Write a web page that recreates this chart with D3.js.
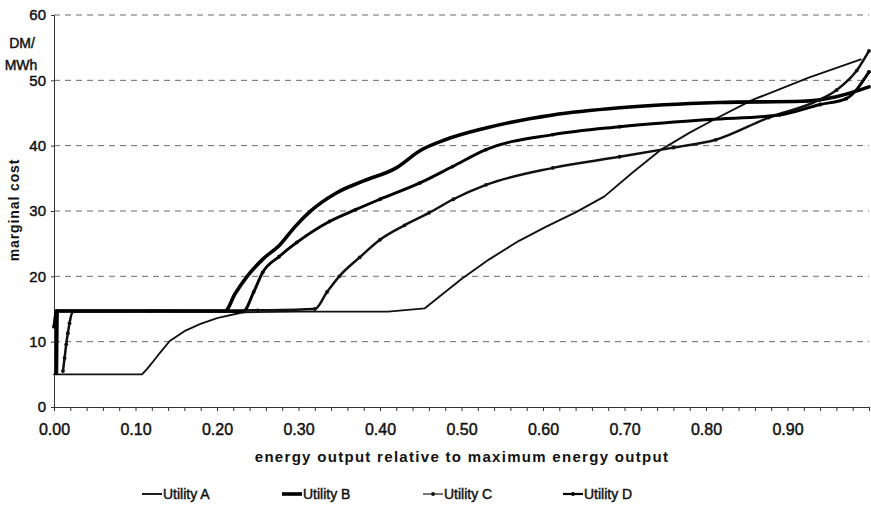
<!DOCTYPE html>
<html>
<head>
<meta charset="utf-8">
<script src="https://cdn.jsdelivr.net/npm/d3@7"></script>
<style>
  html, body { margin: 0; padding: 0; background: #fff; }
  svg { display: block; font-family: "Liberation Sans", Arial, sans-serif; }
  .heavy { stroke: #111; stroke-width: 0.45px; }
</style>
</head>
<body>
<svg id="chart" width="871" height="506"></svg>
<script>
// Marginal cost curves (DM/MWh) against relative energy output
const xTicks = [0, 0.1, 0.2, 0.3, 0.4, 0.5, 0.6, 0.7, 0.8, 0.9];
const yTicks = [0, 10, 20, 30, 40, 50, 60];

const utilityA = [
  [0.000, 5.0], [0.108, 5.0], [0.114, 5.8], [0.120, 6.7], [0.130, 8.3],
  [0.142, 10.1], [0.160, 11.6], [0.179, 12.7], [0.200, 13.6], [0.232, 14.5],
  [0.300, 14.6], [0.410, 14.6], [0.455, 15.1], [0.500, 19.6], [0.534, 22.6],
  [0.570, 25.4], [0.604, 27.6], [0.640, 29.8], [0.675, 32.2], [0.710, 35.9],
  [0.745, 39.4], [0.780, 42.0], [0.810, 44.0], [0.857, 47.0], [0.926, 50.4],
  [0.990, 53.2]
];
const utilityB = [
  [0.003, 5.2], [0.004, 14.7], [0.100, 14.7], [0.210, 14.7], [0.222, 17.3],
  [0.237, 20.0], [0.256, 22.6], [0.277, 24.8], [0.295, 27.5], [0.314, 29.9],
  [0.347, 32.8], [0.380, 34.6], [0.420, 36.6], [0.450, 39.3], [0.480, 40.9],
  [0.530, 42.7], [0.612, 44.7], [0.694, 45.8], [0.816, 46.6], [0.918, 46.8],
  [0.960, 47.5], [1.000, 49.0]
];
const utilityC = [
  [0.011, 5.5], [0.013, 7.5], [0.015, 9.6], [0.017, 11.3], [0.019, 12.8],
  [0.023, 14.6], [0.150, 14.7], [0.250, 14.8], [0.320, 15.0], [0.335, 17.6],
  [0.350, 20.0], [0.375, 22.9], [0.400, 25.6], [0.430, 27.8], [0.460, 29.7],
  [0.490, 31.8], [0.530, 34.0], [0.612, 36.6], [0.694, 38.3], [0.760, 39.7],
  [0.812, 40.9], [0.877, 44.3], [0.939, 47.0], [0.960, 48.5], [0.985, 51.5],
  [1.000, 54.5]
];
const utilityD = [
  [0.000, 12.3], [0.003, 14.7], [0.120, 14.7], [0.232, 14.6], [0.245, 17.6],
  [0.256, 20.6], [0.276, 23.0], [0.298, 25.2], [0.338, 28.4], [0.370, 30.2],
  [0.400, 31.8], [0.449, 34.3], [0.489, 36.8], [0.530, 39.4], [0.612, 41.7],
  [0.694, 42.9], [0.804, 44.0], [0.890, 44.7], [0.940, 46.3], [0.972, 47.2],
  [1.000, 51.3]
];

const seriesNames = ["Utility A", "Utility B", "Utility C", "Utility D"];
const seriesData = [utilityA, utilityB, utilityC, utilityD];
const seriesStyle = [
  { width: 1.9, color: "#111", dots: false, smooth: false },
  { width: 3.6, color: "#000", dots: false, smooth: true },
  { width: 2.5, color: "#111", dots: true, r: 1.9, smooth: true },
  { width: 2.9, color: "#000", dots: true, r: 1.9, smooth: true }
];

const svg = d3.select("#chart");
const x = d3.scaleLinear().domain([0, 1]).range([54, 869]);
const y = d3.scaleLinear().domain([0, 60]).range([407, 15]);

// dashed horizontal gridlines
svg.append("g")
  .selectAll("line")
  .data(yTicks.filter(d => d > 0))
  .join("line")
  .attr("x1", x(0)).attr("x2", x(1))
  .attr("y1", d => y(d)).attr("y2", d => y(d))
  .attr("stroke", "#6a6a6a")
  .attr("stroke-width", 1)
  .attr("stroke-dasharray", "6,5");

// y axis
const yAxis = d3.axisLeft(y).tickValues(yTicks).tickSize(3).tickPadding(5).tickFormat(d3.format("d"));
const gy = svg.append("g").attr("transform", `translate(${x(0)},0)`).call(yAxis);
gy.select(".domain").attr("stroke", "#333");
gy.selectAll(".tick line").attr("stroke", "#333");
gy.selectAll("text").attr("font-size", 15).attr("fill", "#111")
  .attr("font-family", "Liberation Sans, Arial, sans-serif").classed("heavy", true);

// x axis: minor ticks every 0.02, labels every 0.10
const minor = d3.range(0, 51).map(i => i / 50);
const gxMinor = svg.append("g").attr("transform", `translate(0,${y(0)})`)
  .call(d3.axisBottom(x).tickValues(minor).tickSize(4).tickFormat(""));
gxMinor.select(".domain").attr("stroke", "#333");
gxMinor.selectAll(".tick line").attr("stroke", "#333");
const gx = svg.append("g").attr("transform", `translate(0,${y(0)})`)
  .call(d3.axisBottom(x).tickValues(xTicks).tickSize(0).tickPadding(17).tickFormat(d3.format(".2f")));
gx.select(".domain").remove();
gx.selectAll("text").attr("font-size", 16).attr("fill", "#111")
  .attr("font-family", "Liberation Sans, Arial, sans-serif").classed("heavy", true);

// axis titles
svg.append("text")
  .attr("x", 462).attr("y", 462)
  .attr("text-anchor", "middle")
  .attr("font-size", 15).attr("font-weight", "bold")
  .attr("letter-spacing", 1.3)
  .attr("fill", "#111")
  .text("energy output relative to maximum energy output");

svg.append("text")
  .attr("transform", "translate(19,210) rotate(-90)")
  .attr("text-anchor", "middle")
  .attr("font-size", 14).attr("font-weight", "bold")
  .attr("letter-spacing", 0.9)
  .attr("fill", "#111")
  .text("marginal cost");

svg.append("text")
  .attr("x", 22).attr("y", 48)
  .attr("text-anchor", "middle")
  .attr("font-size", 14).attr("fill", "#111").classed("heavy", true)
  .text("DM/");
svg.append("text")
  .attr("x", 21).attr("y", 70)
  .attr("text-anchor", "middle")
  .attr("font-size", 14).attr("fill", "#111").classed("heavy", true)
  .text("MWh");

// curves: A has sharp breaks, the others are drawn smooth
const smoothLine = d3.line().x(d => x(d[0])).y(d => y(d[1])).curve(d3.curveMonotoneX);
const straightLine = d3.line().x(d => x(d[0])).y(d => y(d[1]));

seriesData.forEach((data, i) => {
  const st = seriesStyle[i];
  const g = svg.append("g");
  g.append("path")
    .datum(data)
    .attr("d", st.smooth ? smoothLine : straightLine)
    .attr("fill", "none")
    .attr("stroke", st.color)
    .attr("stroke-width", st.width)
    .attr("stroke-linejoin", "round")
    .attr("stroke-linecap", "round");
  if (st.dots) {
    g.selectAll("circle")
      .data(data)
      .join("circle")
      .attr("cx", d => x(d[0]))
      .attr("cy", d => y(d[1]))
      .attr("r", st.r)
      .attr("fill", st.color);
  }
});

// legend
const legendX = [142, 282, 423, 563];
const legend = svg.append("g");
seriesNames.forEach((name, i) => {
  const st = seriesStyle[i];
  const lx = legendX[i];
  const ly = 494;
  legend.append("line")
    .attr("x1", lx).attr("x2", lx + 20)
    .attr("y1", ly).attr("y2", ly)
    .attr("stroke", i === 2 ? "#555" : st.color)
    .attr("stroke-width", i === 2 ? 1.6 : (i === 3 ? 2.2 : st.width));
  if (st.dots) {
    legend.append("circle")
      .attr("cx", lx + 10).attr("cy", ly)
      .attr("r", st.r)
      .attr("fill", st.color);
  }
  legend.append("text")
    .attr("x", lx + 21).attr("y", ly + 5)
    .attr("font-size", 14).attr("fill", "#111").classed("heavy", true)
    .text(name);
});
</script>
</body>
</html>
